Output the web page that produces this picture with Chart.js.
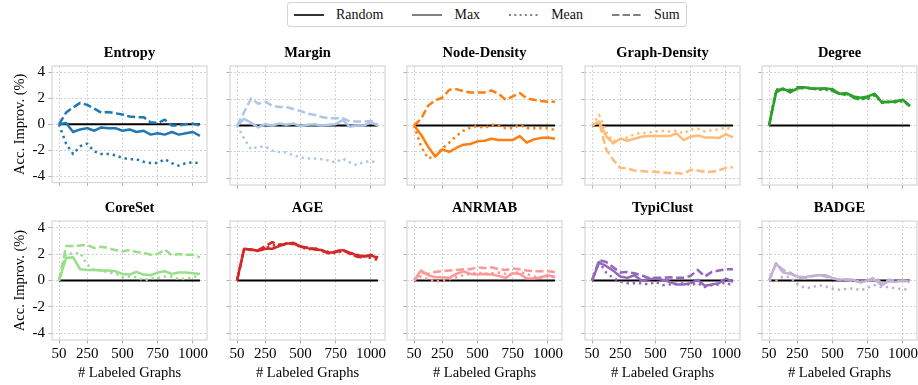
<!DOCTYPE html>
<html>
<head>
<meta charset="utf-8">
<script src="https://cdn.jsdelivr.net/npm/chart.js"></script>
<style>
body { margin: 0; background: #fff; overflow: hidden; }
#fig { position: relative; width: 918px; height: 385px; overflow: hidden; font-family: "Liberation Serif", serif; }
#fig canvas { position: absolute; }
#legend { position: absolute; left: 287px; top: 2px; height: 25px; box-sizing: border-box; border: 1px solid #d4d4d4; border-radius: 3px;
  display: flex; align-items: center; padding: 0 6px; font-size: 14px; color: #111; white-space: nowrap; }
#legend .item { display: flex; align-items: center; }
#legend .item + .item { margin-left: 29px; }
#legend svg { margin-right: 12px; }
</style>
</head>
<body>
<div id="fig">
  <div id="legend">
    <div class="item"><svg width="30" height="6"><line x1="0" y1="3" x2="30" y2="3" stroke="#000" stroke-width="1.6"/></svg>Random</div>
    <div class="item"><svg width="30" height="6"><line x1="0" y1="3" x2="30" y2="3" stroke="#808080" stroke-width="2"/></svg>Max</div>
    <div class="item"><svg width="30" height="6"><line x1="0" y1="3" x2="30" y2="3" stroke="#808080" stroke-width="2" stroke-dasharray="2 3.3"/></svg>Mean</div>
    <div class="item"><svg width="30" height="6"><line x1="0" y1="3" x2="30" y2="3" stroke="#808080" stroke-width="2" stroke-dasharray="7.4 3.2"/></svg>Sum</div>
  </div>
</div>
<script>
// x positions (# labeled graphs) and tick labels
const labeled = [50,100,150,200,250,300,350,400,450,500,550,600,650,700,750,800,850,900,950,1000,1050];
const xTicks = [50, 250, 500, 750, 1000];
const yTicks = [-4, -2, 0, 2, 4];

const methods = ["Entropy","Margin","Node-Density","Graph-Density","Degree","CoreSet","AGE","ANRMAB","TypiClust","BADGE"];
const colors = ["#1f77b4","#aec7e8","#ff7f0e","#ffbb78","#2ca02c","#98df8a","#d62728","#ff9896","#9467bd","#c5b0d5"];

const randomVals = [0,0,0,0,0,0,0,0,0,0,0,0,0,0,0,0,0,0,0,0,0];

const entropyMax  = [0,0.1,-0.6,-0.4,-0.3,-0.5,-0.25,-0.3,-0.3,-0.5,-0.4,-0.6,-0.5,-0.8,-0.7,-0.8,-0.6,-0.8,-0.7,-0.6,-0.9];
const entropyMean = [0,-1.5,-2.3,-1.7,-1.5,-2.1,-2.3,-2.3,-2.4,-2.6,-2.7,-2.7,-2.9,-3.0,-3.0,-2.7,-3.0,-3.2,-3.0,-2.95,-3.0];
const entropySum  = [0,0.9,1.3,1.65,1.5,1.2,0.9,0.95,0.85,0.75,0.6,0.55,0.55,0.15,0.1,0.35,-0.1,-0.1,0.0,0.05,-0.1];

const marginMax  = [0,0.5,0.2,-0.15,0.1,0.0,0.15,0.05,0.15,-0.05,0.05,0.1,0.0,0.05,0.1,0.4,-0.1,0.0,0.0,0.25,0.0];
const marginMean = [0,-1.0,-1.8,-1.6,-1.6,-1.9,-2.0,-2.05,-2.25,-2.4,-2.5,-2.5,-2.55,-2.65,-2.8,-2.5,-2.8,-3.0,-2.75,-2.7,-2.8];
const marginSum  = [0,1.0,2.05,1.65,1.8,1.5,1.4,1.4,1.25,1.1,0.9,0.8,0.65,0.55,0.55,0.55,0.3,0.3,0.3,0.35,0.05];

const nodeMax  = [0,-0.7,-1.6,-2.35,-1.8,-2.0,-1.7,-1.45,-1.4,-1.2,-1.15,-1.0,-1.1,-1.1,-1.1,-0.8,-1.3,-1.05,-0.95,-0.9,-1.0];
const nodeMean = [0,-1.6,-2.5,-2.3,-1.75,-1.3,-0.8,-0.4,-0.15,-0.05,-0.2,0.05,0.0,-0.2,-0.2,0.05,-0.2,-0.2,-0.2,-0.2,-0.35];
const nodeSum  = [0,0.5,1.5,1.9,2.1,2.7,2.75,2.6,2.5,2.5,2.5,2.65,2.4,1.95,2.2,2.45,2.05,1.95,1.85,1.8,1.8];

const graphMax  = [0,0.3,-0.8,-1.35,-1.0,-1.15,-1.0,-0.85,-0.8,-0.8,-0.8,-0.8,-0.6,-1.1,-0.85,-0.75,-0.9,-0.9,-0.95,-0.65,-0.9];
const graphMean = [0,0.8,-0.5,-1.2,-1.0,-0.9,-0.65,-0.6,-0.55,-0.45,-0.4,-0.45,-0.4,-0.6,-0.3,-0.25,-0.45,-0.35,-0.3,-0.15,-0.35];
const graphSum  = [0,0.3,-1.8,-2.6,-3.2,-3.25,-3.4,-3.45,-3.5,-3.5,-3.55,-3.6,-3.6,-3.65,-3.35,-3.4,-3.5,-3.5,-3.4,-3.2,-3.15];

const degreeMax  = [0,2.5,2.8,2.5,2.8,2.9,2.8,2.8,2.8,2.75,2.4,2.45,2.2,2.1,2.2,2.4,1.75,1.8,1.8,1.95,1.5];
const degreeMean = [0,2.75,2.7,2.7,2.75,2.85,2.8,2.7,2.7,2.6,2.4,2.3,2.2,2.0,2.0,2.3,1.7,1.8,1.75,1.85,1.5];
const degreeSum  = [0,2.6,2.8,2.6,2.9,2.9,2.8,2.75,2.8,2.65,2.35,2.4,2.1,1.95,2.15,2.35,1.8,1.75,1.85,1.9,1.45];

const coresetMax  = [0,1.7,1.75,0.85,0.8,0.8,0.75,0.75,0.7,0.5,0.45,0.65,0.45,0.4,0.6,0.7,0.5,0.6,0.6,0.55,0.5];
const coresetMean = [0,2.0,2.05,2.1,1.2,0.8,0.8,0.6,0.55,0.25,0.3,0.25,0.0,0.15,0.2,0.3,0.3,0.1,0.15,0.25,0.35];
const coresetSum  = [0,2.6,2.6,2.65,2.7,2.45,2.55,2.45,2.3,2.2,2.3,2.15,2.1,1.95,2.0,2.35,1.9,2.0,1.95,1.95,1.75];

const ageMax  = [0,2.4,2.35,2.25,2.4,2.4,2.6,2.8,2.8,2.6,2.45,2.35,2.3,2.1,2.15,2.3,2.1,1.9,1.85,1.9,1.7];
const ageMean = [0,2.35,2.35,2.2,2.45,2.65,2.7,2.8,2.75,2.55,2.35,2.45,2.3,2.15,2.05,2.25,2.1,1.95,1.8,1.7,1.55];
const ageSum  = [0,2.4,2.3,2.3,2.6,2.9,2.7,2.75,2.85,2.55,2.5,2.4,2.25,2.05,2.2,2.35,2.0,1.8,1.75,1.95,1.75];

const anrmabMax  = [0,0.75,0.4,0.25,0.25,0.2,0.5,0.7,0.5,0.45,0.5,0.45,0.35,0.2,0.55,0.5,0.15,0.15,0.25,0.4,0.25];
const anrmabMean = [0,0.3,0.1,-0.1,0.0,0.1,0.25,0.4,0.5,0.6,0.5,0.55,0.6,0.5,0.5,0.65,0.5,0.3,0.2,0.3,0.3];
const anrmabSum  = [0,0.6,0.5,0.65,0.7,0.75,0.8,0.85,0.85,1.0,0.95,1.0,0.85,0.8,0.9,0.85,0.75,0.7,0.7,0.7,0.65];

const typiMax  = [0,1.35,1.1,0.75,0.3,0.2,0.4,0.0,0.1,0.15,0.05,-0.1,-0.3,-0.3,-0.2,0.05,-0.4,-0.3,-0.2,0.15,-0.1];
const typiMean = [0,1.4,0.6,0.2,-0.1,-0.2,-0.2,-0.2,-0.3,-0.1,-0.35,-0.3,-0.25,-0.2,-0.35,-0.2,-0.5,-0.35,-0.3,-0.15,-0.4];
const typiSum  = [0,1.55,1.4,1.0,0.6,0.65,0.55,0.4,0.2,0.2,0.2,0.25,0.2,0.2,0.35,0.8,0.3,0.65,0.75,0.85,0.85];

const badgeMax  = [0,1.3,0.6,0.5,0.3,0.25,0.35,0.4,0.4,0.2,0.05,0.1,0.05,-0.15,0.0,0.05,-0.35,-0.05,-0.1,0.0,-0.1];
const badgeMean = [0,0.0,0.3,0.25,-0.25,-0.55,-0.55,-0.35,-0.45,-0.6,-0.7,-0.65,-0.6,-0.75,-0.55,-0.35,-0.5,-0.5,-0.6,-0.65,-0.7];
const badgeSum  = [0,1.3,0.8,0.6,0.25,0.15,0.3,0.4,0.3,0.15,0.05,0.05,-0.05,-0.1,0.0,0.25,-0.2,0.05,0.0,-0.05,-0.05];

const series = [
  [entropyMax, entropyMean, entropySum],
  [marginMax, marginMean, marginSum],
  [nodeMax, nodeMean, nodeSum],
  [graphMax, graphMean, graphSum],
  [degreeMax, degreeMean, degreeSum],
  [coresetMax, coresetMean, coresetSum],
  [ageMax, ageMean, ageSum],
  [anrmabMax, anrmabMean, anrmabSum],
  [typiMax, typiMean, typiSum],
  [badgeMax, badgeMean, badgeSum]
];

// panel layout
const colLeft = [52, 230, 407, 585, 762];
const rowTop = [66, 221];
const plotW = 155, plotH = 119;
const tickFont = { family: "Liberation Serif", size: 15 };
const axisFont = { family: "Liberation Serif", size: 14.5 };

const frame = {
  id: "frame",
  beforeDatasetsDraw(chart) {
    const a = chart.chartArea, ctx = chart.ctx;
    ctx.save();
    ctx.strokeStyle = "#d6d6d6";
    ctx.lineWidth = 1.2;
    ctx.strokeRect(a.left, a.top, a.right - a.left, a.bottom - a.top);
    ctx.restore();
  }
};

const fig = document.getElementById("fig");

function pts(vals) {
  return labeled.map((x, k) => ({ x: x, y: vals[k] }));
}

for (let i = 0; i < methods.length; i++) {
  const r = Math.floor(i / 5), c = i % 5;
  const padL = c === 0 ? colLeft[0] : 8;
  const padB = r === 0 ? 10 : 45;
  const w = padL + plotW + 20, h = 22 + plotH + padB;
  const cv = document.createElement("canvas");
  cv.width = w; cv.height = h;
  cv.style.width = w + "px"; cv.style.height = h + "px";
  cv.style.left = (colLeft[c] - padL) + "px";
  cv.style.top = (rowTop[r] - 22) + "px";
  fig.appendChild(cv);

  const col = colors[i];
  const [mx, mn, sm] = series[i];

  new Chart(cv, {
    type: "line",
    data: {
      datasets: [
        { label: "Random", data: pts(randomVals), borderColor: "#000", borderWidth: 1.8, order: 4 },
        { label: "Max", data: pts(mx), borderColor: col, borderWidth: 2.5, order: 3 },
        { label: "Mean", data: pts(mn), borderColor: col, borderWidth: 2.5, borderDash: [2.4, 3.8], order: 2 },
        { label: "Sum", data: pts(sm), borderColor: col, borderWidth: 2.5, borderDash: [8, 3.5], order: 1 }
      ]
    },
    options: {
      responsive: false,
      animation: false,
      devicePixelRatio: 1,
      layout: { padding: { left: 0, right: 20, top: 0, bottom: 0 } },
      elements: { point: { radius: 0 }, line: { tension: 0, borderCapStyle: "butt", borderJoinStyle: "round" } },
      plugins: {
        legend: { display: false },
        tooltip: { enabled: false },
        title: {
          display: true, text: methods[i], fullSize: false, color: "#000",
          font: { family: "Liberation Serif", size: 14.5, weight: "bold" },
          padding: { top: 0.6, bottom: 4 }
        }
      },
      scales: {
        x: {
          type: "linear", min: 0, max: 1100,
          afterBuildTicks: s => { s.ticks = xTicks.map(v => ({ value: v })); },
          afterFit: s => { s.height = padB; },
          grid: { color: "#c8c8c8", lineWidth: 0.8, drawTicks: true, tickLength: 3.5, tickColor: "#b0b0b0", tickWidth: 1, tickBorderDash: [] },
          border: { display: false, dash: [2, 2] },
          ticks: { display: r === 1, padding: 1.5, font: tickFont, color: "#000", maxRotation: 0, autoSkip: false, callback: v => String(v) },
          title: { display: r === 1, text: "# Labeled Graphs", font: axisFont, color: "#000", padding: { top: 0, bottom: 3.3 } }
        },
        y: {
          min: -4.5, max: 4.5,
          afterBuildTicks: s => { s.ticks = yTicks.map(v => ({ value: v })); },
          afterFit: s => { s.width = padL; },
          grid: { color: "#c8c8c8", lineWidth: 0.8, drawTicks: true, tickLength: 3.5, tickColor: "#b0b0b0", tickWidth: 1, tickBorderDash: [] },
          border: { display: false, dash: [2, 2] },
          ticks: { display: c === 0, padding: 3.5, font: tickFont, color: "#000", callback: v => String(v) },
          title: { display: c === 0, text: "Acc. Improv. (%)", font: axisFont, color: "#000", padding: { top: 11.3, bottom: 0 } }
        }
      }
    },
    plugins: [frame]
  });
}
</script>
</body>
</html>
